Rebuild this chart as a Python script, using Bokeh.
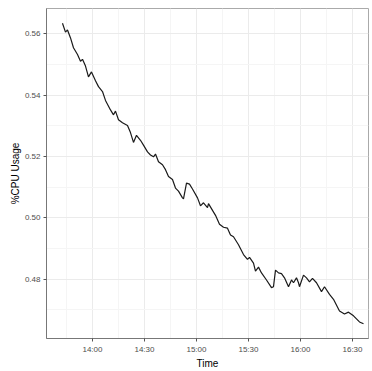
import pandas as pd
from bokeh.plotting import figure
from bokeh.models import FixedTicker, DatetimeTickFormatter, Range1d, ColumnDataSource, PrintfTickFormatter
from bokeh.embed import file_html
from bokeh.resources import INLINE

DAY = "2015-01-01 "

times = ["13:42:41", "13:44:25", "13:45:35", "13:47:19", "13:49:02", "13:51:21", "13:53:05",
         "13:54:14", "13:55:58", "13:57:41", "13:59:25", "14:01:44", "14:03:28", "14:05:46",
         "14:07:30", "14:10:23", "14:12:07", "14:13:16", "14:15:00", "14:17:18", "14:20:12",
         "14:21:55", "14:23:39", "14:25:23", "14:27:41", "14:29:25", "14:31:44", "14:33:28",
         "14:35:12", "14:36:21", "14:38:05", "14:40:23", "14:42:07", "14:43:51", "14:46:09",
         "14:47:53", "14:49:37", "14:51:55", "14:52:30", "14:54:14", "14:55:58", "14:57:41",
         "15:00:35", "15:02:18", "15:04:02", "15:06:21", "15:06:55", "15:09:14", "15:10:58",
         "15:13:16", "15:15:35", "15:17:53", "15:19:37", "15:21:21", "15:24:14", "15:27:07",
         "15:29:25", "15:30:35", "15:32:53", "15:34:02", "15:35:46", "15:37:30", "15:40:23",
         "15:43:16", "15:44:25", "15:45:35", "15:47:19", "15:49:02", "15:50:46", "15:53:05",
         "15:54:49", "15:55:58", "15:57:41", "15:58:51", "15:59:25", "16:01:44", "16:03:28",
         "16:05:12", "16:06:55", "16:09:14", "16:12:07", "16:13:51", "16:16:44", "16:19:02",
         "16:22:30", "16:25:23", "16:27:41", "16:30:35", "16:32:18", "16:34:02", "16:36:21"]

cpu = [0.5635, 0.5606, 0.5613, 0.5587, 0.5555, 0.5533, 0.5511,
       0.5517, 0.5495, 0.5460, 0.5476, 0.5447, 0.5428, 0.5412,
       0.5383, 0.5352, 0.5336, 0.5348, 0.5320, 0.5310, 0.5301,
       0.5278, 0.5246, 0.5269, 0.5253, 0.5237, 0.5215, 0.5205,
       0.5199, 0.5208, 0.5183, 0.5173, 0.5157, 0.5135, 0.5125,
       0.5097, 0.5087, 0.5065, 0.5062, 0.5113, 0.5110, 0.5094,
       0.5065, 0.5039, 0.5049, 0.5033, 0.5046, 0.5024, 0.5008,
       0.4979, 0.4969, 0.4966, 0.4944, 0.4938, 0.4912, 0.4880,
       0.4864, 0.4871, 0.4852, 0.4826, 0.4839, 0.4820, 0.4797,
       0.4772, 0.4775, 0.4829, 0.4820, 0.4818, 0.4804, 0.4775,
       0.4797, 0.4788, 0.4804, 0.4788, 0.4775, 0.4813, 0.4804,
       0.4791, 0.4802, 0.4788, 0.4759, 0.4775, 0.4750, 0.4734,
       0.4696, 0.4686, 0.4692, 0.4680, 0.4670, 0.4660, 0.4654]

x_tick_labels = ["14:00", "14:30", "15:00", "15:30", "16:00", "16:30"]
x_minor_labels = ["13:45", "14:15", "14:45", "15:15", "15:45", "16:15"]
y_ticks = [0.48, 0.50, 0.52, 0.54, 0.56]
y_minor = [0.47, 0.49, 0.51, 0.53, 0.55]
x_limits = ["13:33:28", "16:39:14"]
y_limits = [0.4606, 0.5683]


def to_ms(t):
    return pd.Timestamp(DAY + t).value / 1e6


src = ColumnDataSource(dict(t=pd.to_datetime([DAY + t for t in times]), v=cpu))

p = figure(width=372, height=371, output_backend="svg", toolbar_location=None,
           x_axis_type="datetime",
           x_range=Range1d(to_ms(x_limits[0]), to_ms(x_limits[1])),
           y_range=Range1d(*y_limits),
           min_border_left=46, min_border_right=4, min_border_top=8, min_border_bottom=25)

p.line("t", "v", source=src, line_color="#1a1a1a", line_width=1.2)

p.xaxis.ticker = FixedTicker(ticks=[to_ms(t) for t in x_tick_labels],
                             minor_ticks=[to_ms(t) for t in x_minor_labels])
p.xaxis.formatter = DatetimeTickFormatter(hours="%H:%M", minutes="%H:%M", hourmin="%H:%M",
                                          minsec="%H:%M", seconds="%H:%M", days="%H:%M")
p.yaxis.ticker = FixedTicker(ticks=y_ticks, minor_ticks=y_minor)
p.yaxis.formatter = PrintfTickFormatter(format="%.2f")

p.xaxis.axis_label = "Time"
p.yaxis.axis_label = "%CPU Usage"

for ax in (p.xaxis, p.yaxis):
    ax.axis_label_text_font = "Liberation Sans"
    ax.axis_label_text_font_size = "10px"
    ax.axis_label_text_font_style = "normal"
    ax.axis_label_text_color = "#000000"
    ax.axis_label_standoff = 1
    ax.major_label_text_font = "Liberation Sans"
    ax.major_label_text_font_size = "8px"
    ax.major_label_text_color = "#4d4d4d"
    ax.major_label_standoff = 2
    ax.major_tick_in = 0
    ax.major_tick_out = 3
    ax.major_tick_line_color = "#555555"
    ax.minor_tick_line_color = None
    ax.axis_line_color = "#777777"

p.xgrid.grid_line_color = "#ebebeb"
p.ygrid.grid_line_color = "#ebebeb"
p.xgrid.minor_grid_line_color = "#f5f5f5"
p.ygrid.minor_grid_line_color = "#f5f5f5"
p.outline_line_color = "#aaaaaa"
p.outline_line_width = 1
p.background_fill_color = "white"
p.border_fill_color = "white"

open("out.html", "w").write(file_html(p, INLINE))
